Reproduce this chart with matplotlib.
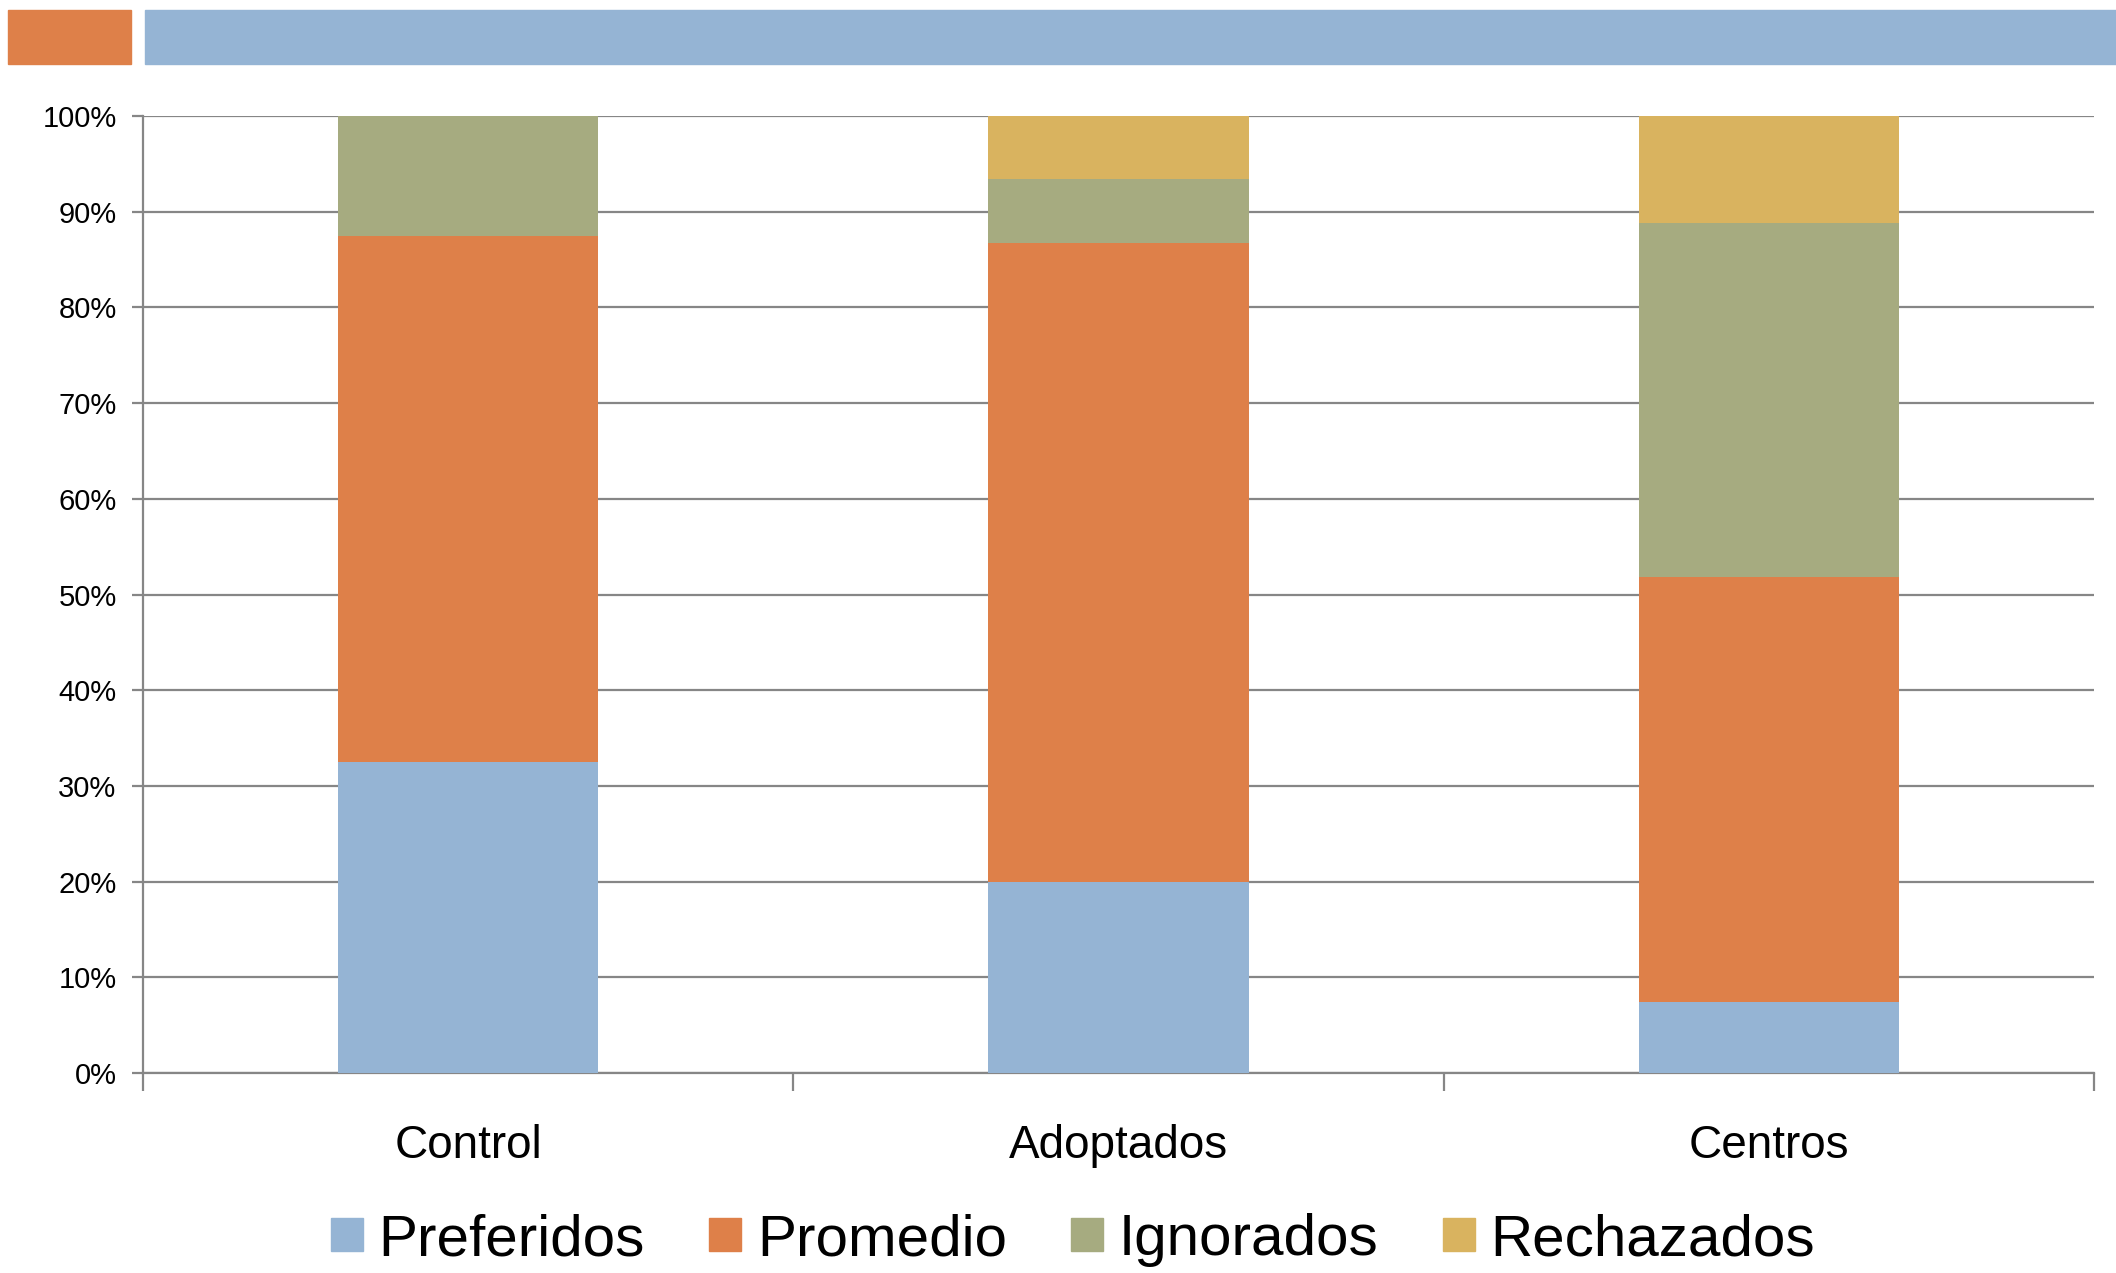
import matplotlib.pyplot as plt
import matplotlib.patches as mpatches
import numpy as np

plt.rcParams['font.family'] = ['Liberation Sans', 'DejaVu Sans']

# Data (percent of each group)
categories = ['Control', 'Adoptados', 'Centros']
series_names = ['Preferidos', 'Promedio', 'Ignorados', 'Rechazados']
preferidos = [32.5, 20.0, 7.4]
promedio = [55.0, 66.7, 44.4]
ignorados = [12.5, 6.7, 37.0]
rechazados = [0.0, 6.6, 11.2]
colors = ['#95b4d4', '#de8049', '#a6ab80', '#d9b35f']

W, H = 2116, 1273
fig = plt.figure(figsize=(W / 100, H / 100), dpi=100)
fig.patch.set_facecolor('white')

# Decorative header bars
fig.patches.append(mpatches.Rectangle((8 / W, 1 - 64 / H), 123 / W, 54 / H,
                                      transform=fig.transFigure, color='#de8049', zorder=0))
fig.patches.append(mpatches.Rectangle((145 / W, 1 - 64 / H), (W - 145) / W, 54 / H,
                                      transform=fig.transFigure, color='#95b4d4', zorder=0))

ax = fig.add_axes([143 / W, 1 - 1073 / H, (2094 - 143) / W, (1073 - 116) / H])

x = np.arange(len(categories))
bottom = np.zeros(len(categories))
for name, vals, c in zip(series_names, [preferidos, promedio, ignorados, rechazados], colors):
    ax.bar(x, vals, width=0.4, bottom=bottom, color=c, label=name, zorder=3)
    bottom += np.array(vals)

ax.set_xlim(-0.5, 2.5)
ax.set_ylim(0, 100)

grid_color = '#868686'
ax.set_yticks(np.arange(0, 101, 10))
ax.set_yticklabels([f'{v}%' for v in range(0, 101, 10)], fontsize=21)
ax.yaxis.grid(True, color=grid_color, linewidth=1.6, zorder=0)
ax.set_axisbelow(True)

ax.set_xticks(x)
ax.set_xticklabels(categories, fontsize=33)
ax.set_xticks([-0.5, 0.5, 1.5, 2.5], minor=True)
ax.tick_params(axis='x', which='major', length=0, pad=37)
ax.tick_params(axis='x', which='minor', length=13, width=1.6, color=grid_color)
ax.tick_params(axis='y', length=8, width=1.6, color=grid_color, pad=11)

for s in ['top', 'right']:
    ax.spines[s].set_visible(False)
for s in ['left', 'bottom']:
    ax.spines[s].set_color(grid_color)
    ax.spines[s].set_linewidth(1.6)

handles = [mpatches.Patch(color=c) for c in colors]
fig.legend(handles, series_names, loc='center', bbox_to_anchor=(1073 / W, 1 - 1240 / H),
           ncol=4, frameon=False, fontsize=42, handlelength=0.55, handleheight=0.5,
           handletextpad=0.27, columnspacing=1.1, borderpad=0, borderaxespad=0)

fig.savefig('out.png', dpi=100, facecolor='white')
plt.close(fig)
